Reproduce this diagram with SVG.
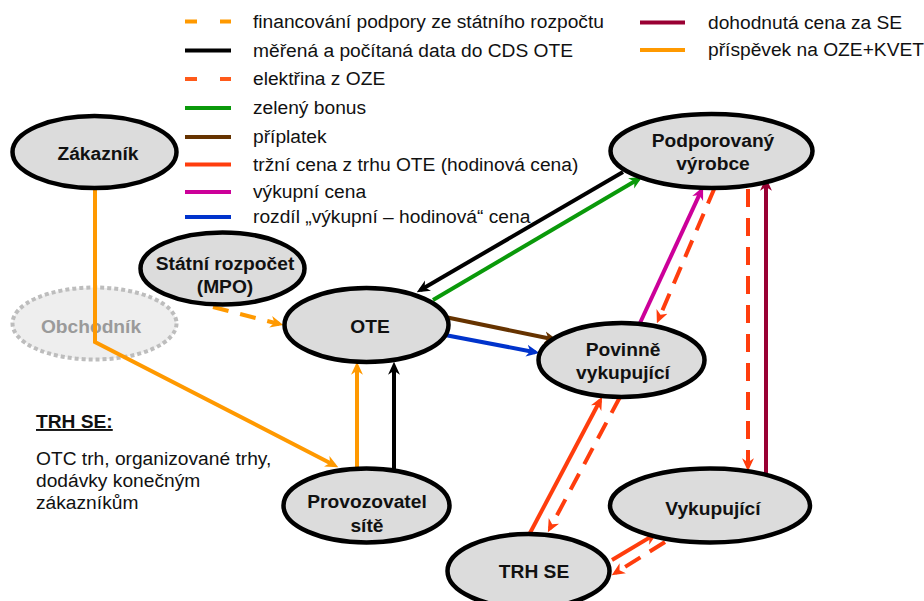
<svg xmlns="http://www.w3.org/2000/svg" width="924" height="601" viewBox="0 0 924 601">
  <style>
    text { font-family: "Liberation Sans", Arial, sans-serif; font-size: 19.2px; fill: #111; }
    .lbl { font-weight: bold; text-anchor: middle; }
    .node { fill: #DCDCDC; stroke: #000; stroke-width: 4.5; }
    .ghost { fill: #EEEEEE; stroke: #BDBDBD; stroke-width: 4; stroke-dasharray: 4 3; }
    .ghost-lbl { fill: #9A9A9A; }
    .c { fill: none; stroke-width: 4; stroke-linecap: butt; stroke-linejoin: miter; }
    .dash { stroke-dasharray: 18 11; }
    .dash-s { stroke-dasharray: 16 12; }
    .lg { stroke-width: 4; }
    .lg-dash { stroke-dasharray: 12 23; }
  </style>
  <defs>
    <marker id="ah-orange" markerUnits="userSpaceOnUse" markerWidth="13" markerHeight="13" viewBox="0 0 12 12" refX="8" refY="6" orient="auto"><path d="M12,6 L0,0.5 L3.5,6 L0,11.5 Z" fill="#FF9900"/></marker>
    <marker id="ah-black" markerUnits="userSpaceOnUse" markerWidth="13" markerHeight="13" viewBox="0 0 12 12" refX="8" refY="6" orient="auto"><path d="M12,6 L0,0.5 L3.5,6 L0,11.5 Z" fill="#000"/></marker>
    <marker id="ah-green" markerUnits="userSpaceOnUse" markerWidth="13" markerHeight="13" viewBox="0 0 12 12" refX="8" refY="6" orient="auto"><path d="M12,6 L0,0.5 L3.5,6 L0,11.5 Z" fill="#0A990A"/></marker>
    <marker id="ah-brown" markerUnits="userSpaceOnUse" markerWidth="13" markerHeight="13" viewBox="0 0 12 12" refX="8" refY="6" orient="auto"><path d="M12,6 L0,0.5 L3.5,6 L0,11.5 Z" fill="#663300"/></marker>
    <marker id="ah-blue" markerUnits="userSpaceOnUse" markerWidth="13" markerHeight="13" viewBox="0 0 12 12" refX="8" refY="6" orient="auto"><path d="M12,6 L0,0.5 L3.5,6 L0,11.5 Z" fill="#0033CC"/></marker>
    <marker id="ah-magenta" markerUnits="userSpaceOnUse" markerWidth="13" markerHeight="13" viewBox="0 0 12 12" refX="8" refY="6" orient="auto"><path d="M12,6 L0,0.5 L3.5,6 L0,11.5 Z" fill="#CC0099"/></marker>
    <marker id="ah-red" markerUnits="userSpaceOnUse" markerWidth="13" markerHeight="13" viewBox="0 0 12 12" refX="8" refY="6" orient="auto"><path d="M12,6 L0,0.5 L3.5,6 L0,11.5 Z" fill="#FF3D0D"/></marker>
    <marker id="ah-maroon" markerUnits="userSpaceOnUse" markerWidth="13" markerHeight="13" viewBox="0 0 12 12" refX="8" refY="6" orient="auto"><path d="M12,6 L0,0.5 L3.5,6 L0,11.5 Z" fill="#990033"/></marker>
  </defs>

  <rect width="924" height="601" fill="#FFFFFF"/>

  <!-- legend -->
  <g id="legend">
    <line class="lg lg-dash" x1="185" y1="21.5" x2="231" y2="21.5" stroke="#FF9900"/>
    <text x="253" y="27.5">financování podpory ze státního rozpočtu</text>
    <line class="lg" x1="185" y1="50.5" x2="231" y2="50.5" stroke="#000"/>
    <text x="253" y="56.5">měřená a počítaná data do CDS OTE</text>
    <line class="lg lg-dash" x1="185" y1="79" x2="231" y2="79" stroke="#FF5A1A"/>
    <text x="253" y="85">elektřina z OZE</text>
    <line class="lg" x1="185" y1="108" x2="231" y2="108" stroke="#0A990A"/>
    <text x="253" y="114">zelený bonus</text>
    <line class="lg" x1="185" y1="137" x2="231" y2="137" stroke="#663300"/>
    <text x="253" y="143">příplatek</text>
    <line class="lg" x1="185" y1="164.5" x2="231" y2="164.5" stroke="#FF3D0D"/>
    <text x="253" y="170.5">tržní cena z trhu OTE (hodinová cena)</text>
    <line class="lg" x1="185" y1="192" x2="231" y2="192" stroke="#CC0099"/>
    <text x="253" y="198">výkupní cena</text>
    <line class="lg" x1="185" y1="217" x2="231" y2="217" stroke="#0033CC"/>
    <text x="253" y="223">rozdíl „výkupní – hodinová“ cena</text>
    <line class="lg" x1="640" y1="22.5" x2="685" y2="22.5" stroke="#990033"/>
    <text x="708" y="28.5">dohodnutá cena za SE</text>
    <line class="lg" x1="640" y1="50" x2="685" y2="50" stroke="#FF9900"/>
    <text x="708" y="56">příspěvek na OZE+KVET</text>
  </g>

  <!-- side note -->
  <g id="note">
    <text x="36" y="428" font-weight="bold" text-decoration="underline">TRH SE:</text>
    <text x="36" y="465">OTC trh, organizované trhy,</text>
    <text x="36" y="487">dodávky konečným</text>
    <text x="36" y="509">zákazníkům</text>
  </g>

  <!-- inactive party, drawn beneath the connectors -->
  <g id="obchodnik">
    <ellipse class="ghost" cx="94.5" cy="323.5" rx="82" ry="36"/>
    <text class="lbl ghost-lbl" x="91" y="333">Obchodník</text>
  </g>

  <!-- connectors -->
  <g id="connectors">
    <polyline class="c" points="95,188 95,342 334.4,465.2" stroke="#FF9900" marker-end="url(#ah-orange)"/>
    <line class="c" x1="357" y1="469" x2="357" y2="366" stroke="#FF9900" marker-end="url(#ah-orange)"/>
    <line class="c" x1="394" y1="469" x2="394" y2="366" stroke="#000" marker-end="url(#ah-black)"/>
    <line class="c dash-s" x1="213" y1="307" x2="279.1" y2="324" stroke="#FF9900" marker-end="url(#ah-orange)"/>
    <line class="c" x1="623" y1="172" x2="420.5" y2="290" stroke="#000" marker-end="url(#ah-black)"/>
    <line class="c" x1="433" y1="300" x2="638.6" y2="179" stroke="#0A990A" marker-end="url(#ah-green)"/>
    <line class="c" x1="445" y1="317" x2="553.1" y2="339.2" stroke="#663300" marker-end="url(#ah-brown)"/>
    <line class="c" x1="445" y1="335" x2="535.1" y2="352.2" stroke="#0033CC" marker-end="url(#ah-blue)"/>
    <line class="c" x1="640" y1="323" x2="701.3" y2="190.6" stroke="#CC0099" marker-end="url(#ah-magenta)"/>
    <line class="c dash" x1="715" y1="187" x2="658.6" y2="319.3" stroke="#FF3D0D" marker-end="url(#ah-red)"/>
    <line class="c dash" x1="748" y1="189" x2="748" y2="467" stroke="#FF3D0D" marker-end="url(#ah-red)"/>
    <line class="c" x1="766" y1="477" x2="766" y2="182" stroke="#990033" marker-end="url(#ah-maroon)"/>
    <line class="c" x1="530" y1="533" x2="600.1" y2="400.5" stroke="#FF3D0D" marker-end="url(#ah-red)"/>
    <line class="c dash" x1="620" y1="397" x2="549.9" y2="528.5" stroke="#FF3D0D" marker-end="url(#ah-red)"/>
    <line class="c" x1="612" y1="560" x2="653.6" y2="535.1" stroke="#FF3D0D" marker-end="url(#ah-red)"/>
    <line class="c dash" x1="665" y1="542" x2="615.4" y2="572.9" stroke="#FF3D0D" marker-end="url(#ah-red)"/>
  </g>

  <!-- parties -->
  <g id="zakaznik">
    <ellipse class="node" cx="94.5" cy="152" rx="82" ry="36"/>
    <text class="lbl" x="98" y="160">Zákazník</text>
  </g>
  <g id="statni-rozpocet">
    <ellipse class="node" cx="222.5" cy="268.5" rx="82" ry="36"/>
    <text class="lbl" x="225" y="270">Státní rozpočet</text>
    <text class="lbl" x="225" y="293">(MPO)</text>
  </g>
  <g id="ote">
    <ellipse class="node" cx="366.5" cy="325" rx="82" ry="37"/>
    <text class="lbl" x="370" y="333">OTE</text>
  </g>
  <g id="povinne-vykupujici">
    <ellipse class="node" cx="621.5" cy="360" rx="83" ry="37"/>
    <text class="lbl" x="623" y="356">Povinně</text>
    <text class="lbl" x="623" y="379">vykupující</text>
  </g>
  <g id="podporovany-vyrobce">
    <ellipse class="node" cx="711.5" cy="151" rx="101" ry="37"/>
    <text class="lbl" x="713" y="147">Podporovaný</text>
    <text class="lbl" x="713" y="170">výrobce</text>
  </g>
  <g id="vykupujici">
    <ellipse class="node" cx="710" cy="505.5" rx="100" ry="37"/>
    <text class="lbl" x="713" y="515">Vykupující</text>
  </g>
  <g id="trh-se">
    <ellipse class="node" cx="528.5" cy="571" rx="81" ry="37"/>
    <text class="lbl" x="534" y="578">TRH SE</text>
  </g>
  <g id="provozovatel-site">
    <ellipse class="node" cx="366.5" cy="505.5" rx="83" ry="37"/>
    <text class="lbl" x="367" y="508">Provozovatel</text>
    <text class="lbl" x="367" y="532">sítě</text>
  </g>
</svg>
